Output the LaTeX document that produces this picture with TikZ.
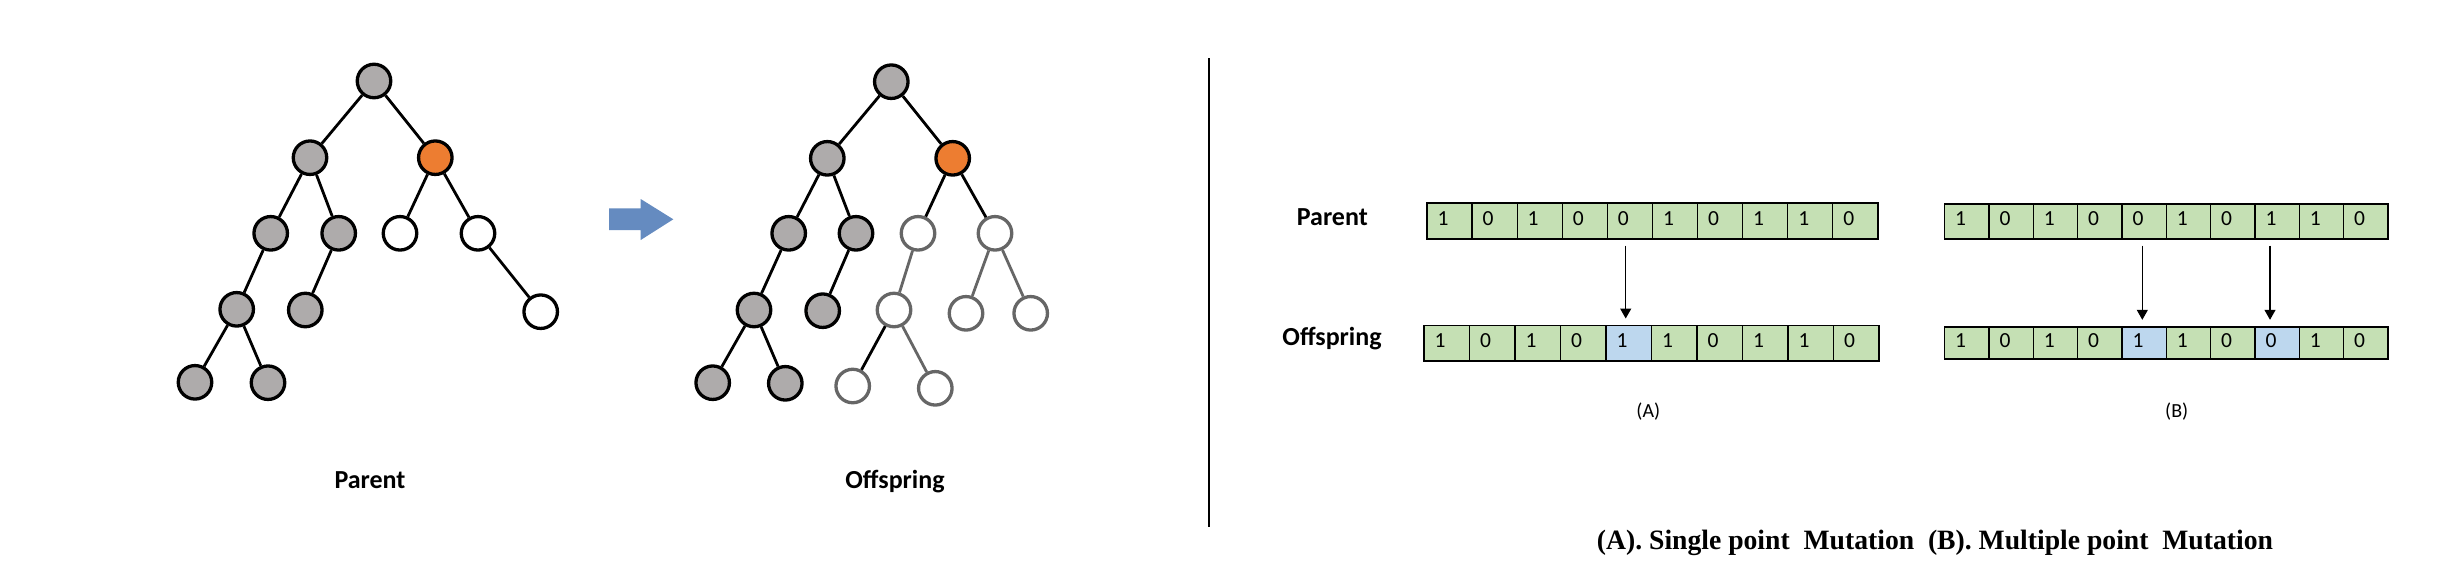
\documentclass[tikz,border=0pt]{standalone}
\usepackage{fontspec}
\setmainfont{Carlito}
\newfontfamily\capfont{Liberation Serif}
\usetikzlibrary{calc,arrows.meta}
\definecolor{nodegray}{HTML}{AEABAB}
\definecolor{nodeorange}{HTML}{ED7D31}
\definecolor{outgray}{HTML}{666666}
\definecolor{cellgreen}{HTML}{C5E0B4}
\definecolor{cellblue}{HTML}{BDD7EE}
\definecolor{arrowblue}{HTML}{658BC0}
\tikzset{
 tn/.style={circle, draw=black, line width=3.3pt, minimum size=33.5pt, inner sep=0pt},
 gnode/.style={tn, fill=nodegray},
 onode/.style={tn, fill=nodeorange},
 wnode/.style={tn, fill=white},
 wgnode/.style={tn, fill=white, draw=outgray},
 tedge/.style={line width=2.8pt, draw=black},
 gtedge/.style={line width=2.8pt, draw=outgray},
 cellbox/.style={draw=black, line width=1.2pt, rectangle, inner sep=0pt, anchor=north west},
 digit/.style={font=\fontsize{21.5}{21.5}\selectfont, inner sep=0pt, anchor=base west},
 lbl/.style={font=\bfseries\fontsize{26}{26}\selectfont, inner sep=0pt, anchor=base},
 sublbl/.style={font=\fontsize{20}{20}\selectfont, inner sep=0pt},
 bitarrow/.style={line width=1.3pt, -{Triangle[width=11pt,length=10pt]}, shorten <=6pt, shorten >=6.5pt},
}
\newcommand\bitrow[6]{%
 \foreach \dg/\cl [count=\i from 0] in {#6}{%
   \node[cellbox, fill=\cl, minimum width=#4pt, minimum height=#5pt] (#1-\i) at ({#2+\i*#4},#3) {};
   \node[digit] (#1-\i-d) at ($(#1-\i.west)+(11,4.2)$) {\dg};
 }}
\begin{document}
\begin{tikzpicture}[x=1pt,y=-1pt]
\useasboundingbox (0,0) rectangle (2449,566);
\fill[white] (0,0) rectangle (2449,566);

% ---------- Parent tree ----------
\node[gnode] (pr) at (374,81) {};
\node[gnode] (pa) at (310,157.7) {};
\node[onode] (po) at (435.3,157.7) {};
\node[gnode] (pa1) at (270.7,233.3) {};
\node[gnode] (pa2) at (338.7,233.3) {};
\node[wnode] (po1) at (400,233.3) {};
\node[wnode] (po2) at (478,233.3) {};
\node[gnode] (pa11) at (236.7,309.3) {};
\node[gnode] (pa21) at (305.3,310) {};
\node[wnode] (po21) at (540.7,311.7) {};
\node[gnode] (pa111) at (195,382.3) {};
\node[gnode] (pa112) at (268,382.7) {};
\foreach \s/\t in {pr/pa,pr/po,pa/pa1,pa/pa2,po/po1,po/po2,pa1/pa11,pa2/pa21,po2/po21,pa11/pa111,pa11/pa112}
  \draw[tedge] (\s) -- (\t);

% ---------- Offspring tree ----------
\node[gnode] (or) at (891.3,81.7) {};
\node[gnode] (oa) at (827.3,158.3) {};
\node[onode] (oo) at (952.7,158.3) {};
\node[gnode] (oa1) at (788.7,233.3) {};
\node[gnode] (oa2) at (856,233.3) {};
\node[wgnode] (oo1) at (918,233.3) {};
\node[wgnode] (oo2) at (995,233.3) {};
\node[gnode] (oa11) at (754,310) {};
\node[gnode] (oa21) at (822.7,310.7) {};
\node[wgnode] (oo11) at (894,310) {};
\node[wgnode] (oo21) at (966,313.3) {};
\node[wgnode] (oo22) at (1030.7,313.3) {};
\node[gnode] (oa111) at (712.7,382.7) {};
\node[gnode] (oa112) at (785.3,383.3) {};
\node[wgnode] (oo111) at (852.7,386) {};
\node[wgnode] (oo112) at (935.3,388.3) {};
\foreach \s/\t in {or/oa,or/oo,oa/oa1,oa/oa2,oo/oo1,oo/oo2,oa1/oa11,oa2/oa21,oa11/oa111,oa11/oa112,oo11/oo111}
  \draw[tedge] (\s) -- (\t);
\foreach \s/\t in {oo1/oo11,oo11/oo112,oo2/oo21,oo2/oo22}
  \draw[gtedge] (\s) -- (\t);

% blue arrow
\fill[arrowblue] (609,208.3) -- (640.7,208.3) -- (640.7,199) -- (673.3,219.3) -- (640.7,240) -- (640.7,230) -- (609,230) -- cycle;

\node[lbl] (tpl) at (370,488) {Parent};
\node[lbl] (tol) at (895,488) {Offspring};

% divider
\coordinate (dv1) at (1209.3,58.3);
\coordinate (dv2) at (1209.3,527.3);
\draw[line width=2pt] (dv1) -- (dv2);

% ---------- bit strings ----------
\node[lbl] (rpl) at (1332.3,225) {Parent};
\node[lbl] (rol) at (1332,345) {Offspring};

\bitrow{pA}{1426.3}{202.3}{45.1}{36}{1/cellgreen,0/cellgreen,1/cellgreen,0/cellgreen,0/cellgreen,1/cellgreen,0/cellgreen,1/cellgreen,1/cellgreen,0/cellgreen}
\bitrow{oA}{1423.3}{325}{45.5}{35.3}{1/cellgreen,0/cellgreen,1/cellgreen,0/cellgreen,1/cellblue,1/cellgreen,0/cellgreen,1/cellgreen,1/cellgreen,0/cellgreen}
\bitrow{pB}{1944}{203.3}{44.33}{35}{1/cellgreen,0/cellgreen,1/cellgreen,0/cellgreen,0/cellgreen,1/cellgreen,0/cellgreen,1/cellgreen,1/cellgreen,0/cellgreen}
\bitrow{oB}{1944}{326.3}{44.33}{32}{1/cellgreen,0/cellgreen,1/cellgreen,0/cellgreen,1/cellblue,1/cellgreen,0/cellgreen,0/cellblue,1/cellgreen,0/cellgreen}

\coordinate (xA) at (1625.7,0);
\coordinate (xB1) at (2142.3,0);
\coordinate (xB2) at (2270,0);
\draw[bitarrow] (pA-4.south -| xA) -- (oA-4.north -| xA);
\draw[bitarrow] (pB-4.south -| xB1) -- (oB-4.north -| xB1);
\draw[bitarrow] (pB-7.south -| xB2) -- (oB-7.north -| xB2);

\node[sublbl] (la) at (1648.3,411.7) {(A)};
\node[sublbl] (lb) at (2176.7,411.7) {(B)};

\node[anchor=base west, inner sep=0pt] (cap) at (1596.7,549.3)
 {\resizebox{676pt}{\height}{\capfont\bfseries\fontsize{28}{28}\selectfont (A). Single point~ Mutation~ (B). Multiple point~ Mutation}};
\end{tikzpicture}
\end{document}
